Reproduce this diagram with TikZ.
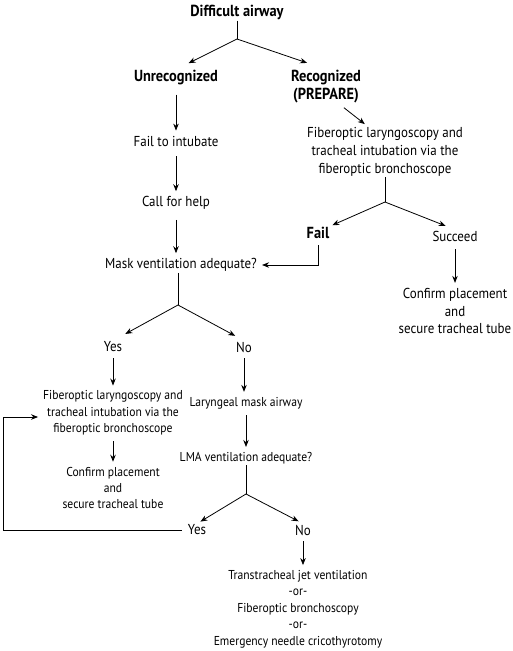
\documentclass[tikz,border=0pt]{standalone}
\usepackage{fontspec}
\setmainfont[FakeStretch=0.9]{PT Sans}
\usetikzlibrary{arrows.meta, calc}

\begin{document}
\begin{tikzpicture}[x=1pt, y=-1pt,
    hd/.style={font=\bfseries\fontsize{16}{18}\selectfont, align=center, inner sep=1pt},
    txt/.style={font=\fontsize{14.4}{17.7}\selectfont, align=center, inner sep=1pt},
    sml/.style={font=\fontsize{12.9}{16.4}\selectfont, align=center, inner sep=1pt},
    link/.style={line width=0.8pt},
    arrow/.style={line width=0.8pt, -{Stealth[length=7pt, width=5.5pt]}, shorten <=5pt, shorten >=4pt},
    fork/.style={line width=0.8pt, -{Stealth[length=7pt, width=5.5pt]}, shorten >=#1}
  ]
  \useasboundingbox (0,0) rectangle (513,651);

  % Top split
  \node[hd] (diff) at (237,12) {Difficult airway};
  \coordinate (f1) at (237,39);
  \node[hd] (unrec) at (176,78) {Unrecognized};
  \node[hd] (recog) at (326,87) {Recognized\\(PREPARE)};

  % Unrecognized branch
  \node[txt] (failint) at (176,141) {Fail to intubate};
  \node[txt] (callhelp) at (176,203) {Call for help};
  \node[txt] (mask) at (181,265) {Mask ventilation adequate?};

  % Recognized branch
  \node[txt] (fibR) at (385,152) {Fiberoptic laryngoscopy and\\tracheal intubation via the\\fiberoptic bronchoscope};
  \coordinate (f2) at (385,202);
  \node[hd] (fail) at (318,233) {Fail};
  \node[txt] (succeed) at (455,236) {Succeed};
  \node[txt] (confR) at (455,311) {Confirm placement\\and\\secure tracheal tube};

  % Mask ventilation split
  \coordinate (f3) at (178,305);
  \node[txt] (yes1) at (113,347) {Yes};
  \node[txt] (no1) at (244,347) {No};
  \node[sml] (fibL) at (113,413) {Fiberoptic laryngoscopy and\\tracheal intubation via the\\fiberoptic bronchoscope};
  \node[sml] (confL) at (113,488) {Confirm placement\\and\\secure tracheal tube};
  \node[sml] (lma) at (246,403) {Laryngeal mask airway};
  \node[sml] (lmavent) at (246,458) {LMA ventilation adequate?};

  % LMA split
  \coordinate (f4) at (246,494);
  \node[txt] (yes2) at (197,530) {Yes};
  \node[txt] (no2) at (303,530) {No};
  \node[sml] (rescue) at (298,609) {Transtracheal jet ventilation\\-or-\\Fiberoptic bronchoscopy\\-or-\\Emergency needle cricothyrotomy};
  \coordinate (loop) at (3,417);

  % Connections
  \draw[link] (diff) -- (f1);
  \draw[fork=14pt] (f1) -- (unrec.north);
  \draw[fork=20pt] (f1) -- (recog.north);
  \draw[arrow, shorten <=8pt] (unrec) -- (failint);
  \draw[arrow, shorten <=9pt] (failint) -- (callhelp);
  \draw[arrow, shorten <=9pt] (callhelp) -- (callhelp |- mask.north);
  \draw[arrow] ($(recog.south)+(14,0)$) -- ($(fibR.north)+(-17,0)$);
  \draw[link] (fibR) -- (f2);
  \draw[fork=2pt] (f2) -- (fail.north east);
  \draw[fork=10pt] (f2) -- (succeed.north);
  \draw[arrow, shorten <=7pt] (succeed) -- (confR);
  \draw[arrow] (fail.south) |- (mask);
  \draw[link] (f3 |- mask.south) -- (f3);
  \draw[fork=14pt] (f3) -- (yes1.north);
  \draw[fork=10pt] (f3) -- (no1.north);
  \draw[arrow] (yes1) -- (fibL);
  \draw[arrow] (fibL) -- (confL);
  \draw[arrow] (no1) -- (no1 |- lma.north);
  \draw[arrow] (lma) -- (lmavent);
  \draw[link] (lmavent) -- (f4);
  \draw[fork=4pt] (f4) -- (yes2.north);
  \draw[fork=5pt] (f4) -- (no2.north);
  \draw[arrow] (no2) -- (no2 |- rescue.north);
  \draw[arrow] (yes2.west) -| (loop) -- (loop -| fibL.west);
\end{tikzpicture}
\end{document}
